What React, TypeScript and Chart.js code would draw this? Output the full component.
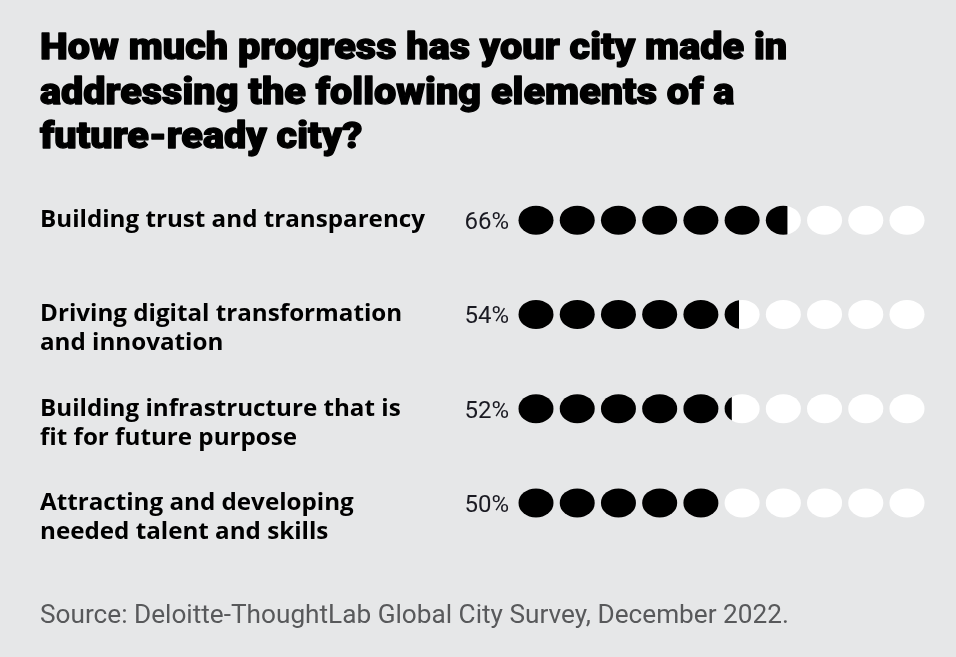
import React, { useEffect, useRef } from "react";
import { Chart, registerables } from "chart.js";

Chart.register(...registerables);

const titleLines = [
  "How much progress has your city made in",
  "addressing the following elements of a",
  "future-ready city?",
];
const categories = [
  ["Building trust and transparency"],
  ["Driving digital transformation", "and innovation"],
  ["Building infrastructure that is", "fit for future purpose"],
  ["Attracting and developing", "needed talent and skills"],
];
const values = [66, 54, 52, 50];
const dotCount = 10;
const sourceText = "Source: Deloitte-ThoughtLab Global City Survey, December 2022.";

const BG = "#e6e7e8";

export default function App() {
  const ref = useRef<HTMLCanvasElement | null>(null);

  useEffect(() => {
    document.body.style.margin = "0";
    document.body.style.background = BG;
    const canvas = ref.current!;
    const points: { x: number; y: number }[] = [];
    values.forEach((_, r) => {
      for (let i = 0; i < dotCount; i++) points.push({ x: i, y: r });
    });

    const dotPlugin = {
      id: "dots",
      beforeDraw(chart: any) {
        const c = chart.ctx;
        c.save();
        c.fillStyle = BG;
        c.fillRect(0, 0, chart.width, chart.height);
        c.restore();
      },
      afterDatasetsDraw(chart: any) {
        const c = chart.ctx;
        const xs = chart.scales.x;
        const ys = chart.scales.y;
        const meta = chart.getDatasetMeta(0);
        const step = xs.getPixelForValue(1) - xs.getPixelForValue(0);
        const rx = step * 0.425;
        const ry = 14.5;
        meta.data.forEach((el: any, idx: number) => {
          const p = points[idx];
          const cx = el.x;
          const cy = el.y;
          const frac = Math.max(0, Math.min(1, values[p.y] / 10 - p.x));
          c.save();
          c.beginPath();
          c.ellipse(cx, cy, rx, ry, 0, 0, Math.PI * 2);
          c.fillStyle = "#ffffff";
          c.fill();
          if (frac > 0) {
            c.clip();
            c.fillStyle = "#000000";
            c.fillRect(cx - rx - 1, cy - ry - 1, (2 * rx + 1) * frac + 1, 2 * ry + 2);
          }
          c.restore();
        });

        // title
        c.save();
        c.textBaseline = "alphabetic";
        c.textAlign = "left";
        c.fillStyle = "#000000";
        c.strokeStyle = "#000000";
        c.lineWidth = 1.3;
        c.lineJoin = "round";
        c.font = "900 36px Roboto";
        titleLines.forEach((t, i) => {
          c.save();
          c.translate(40, 59 + i * 44.5);
          c.scale(1.1, 1);
          c.fillText(t, 0, 0);
          c.strokeText(t, 0, 0);
          c.restore();
        });

        c.font = "bold 23px 'Open Sans'";
        const labelScale = Math.min(1.2, 385 / c.measureText(categories[0][0]).width);
        categories.forEach((lines, r) => {
          const cy = ys.getPixelForValue(r);
          c.font = "bold 23px 'Open Sans'";
          c.fillStyle = "#000000";
          c.textAlign = "left";
          lines.forEach((t, i) => {
            c.save();
            c.translate(40, cy + 7 + i * 29);
            c.scale(labelScale, 1);
            c.fillText(t, 0, 0);
            c.restore();
          });
          c.font = "24px Roboto";
          c.fillStyle = "#1a1a22";
          c.textAlign = "right";
          c.fillText(values[r] + "%", 509, cy + 9);
        });

        c.textAlign = "left";
        c.font = "26.2px Roboto";
        c.fillStyle = "#58595b";
        c.fillText(sourceText, 40, 623);
        c.restore();
      },
    };

    const chart = new Chart(canvas, {
      type: "scatter",
      data: {
        datasets: [
          {
            data: points,
            pointRadius: 0,
            pointHoverRadius: 0,
          },
        ],
      },
      options: {
        animation: false,
        responsive: false,
        events: [],
        layout: { padding: { left: 515.4, right: 28.4, top: 173, bottom: 107 } },
        plugins: { legend: { display: false }, tooltip: { enabled: false } },
        scales: {
          x: { type: "linear", min: -0.5, max: 9.5, display: false },
          y: { type: "linear", min: -0.5, max: 3.5, reverse: true, display: false },
        },
      },
      plugins: [dotPlugin],
    });
    return () => chart.destroy();
  }, []);

  return (
    <div style={{ width: 956, height: 657, background: BG }}>
      <canvas ref={ref} width={956} height={657} style={{ display: "block" }} />
    </div>
  );
}
